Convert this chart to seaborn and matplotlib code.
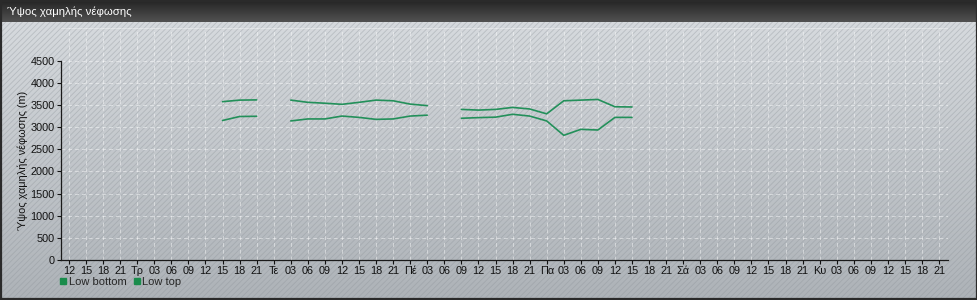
import numpy as np
import pandas as pd
import matplotlib
matplotlib.use("Agg")
import matplotlib.pyplot as plt
from matplotlib.patches import Rectangle
from matplotlib.lines import Line2D
import seaborn as sns

# ---------------- data ----------------
title = "Ύψος χαμηλής νέφωσης"
y_label = "Ύψος χαμηλής νέφωσης (m)"
series_names = ["Low bottom", "Low top"]
hours = [39, 42, 45, 48, 51, 54, 57, 60, 63, 66, 69, 72, 75, 78,
         81, 84, 87, 90, 93, 96, 99, 102, 105, 108, 111]
low_bottom = [3150, 3240, 3245, np.nan, 3140, 3185, 3185, 3250, 3220, 3175, 3185, 3250, 3270, np.nan,
              3200, 3215, 3225, 3290, 3250, 3140, 2815, 2950, 2935, 3220, 3220]
low_top = [3575, 3610, 3615, np.nan, 3610, 3560, 3540, 3515, 3560, 3610, 3595, 3520, 3485, np.nan,
           3400, 3385, 3400, 3445, 3410, 3300, 3595, 3610, 3625, 3460, 3455]
tick_hours = list(range(12, 166, 3))
day_labels = {24: "Τρ", 48: "Τε", 72: "Πέ", 96: "Πα", 120: "Σά", 144: "Κυ"}
tick_labels = [day_labels.get(h, f"{h % 24:02d}") for h in tick_hours]
y_ticks = list(range(0, 4501, 500))
line_color = "#23905a"

# ---------------- build long table ----------------
rows = []
for name, vals in zip(series_names, [low_bottom, low_top]):
    seg = 0
    for h, v in zip(hours, vals):
        if np.isnan(v):
            seg += 1
            continue
        rows.append({"series": name, "segment": f"{name}-{seg}", "hour": h, "height": v})
df = pd.DataFrame(rows)

# ---------------- figure ----------------
sns.set_theme(style="white")
plt.rcParams["font.family"] = ["Liberation Sans", "DejaVu Sans"]
plt.rcParams["hatch.linewidth"] = 0.6
W, H = 978, 300
fig = plt.figure(figsize=(W / 100, H / 100), dpi=100)

# background
bg = fig.add_axes([0, 0, 1, 1], zorder=-10)
bg.set_xlim(0, W)
bg.set_ylim(H, 0)
bg.axis("off")
grad = np.linspace(0, 1, 256).reshape(-1, 1)
top_c = np.array([0.84, 0.855, 0.87])
bot_c = np.array([0.68, 0.70, 0.72])
img = (top_c * (1 - grad[..., None]) + bot_c * grad[..., None]).reshape(256, 1, 3)
bg.imshow(img, extent=[0, W, H, 22], aspect="auto", zorder=0)
bg.add_patch(Rectangle((0, 22), W, H - 22, facecolor="none", edgecolor="#8e949a",
                       hatch="//////", linewidth=0, alpha=0.4, zorder=1))
tgrad = np.linspace(0, 1, 64).reshape(-1, 1)
t_top = np.array([0.14, 0.14, 0.14])
t_bot = np.array([0.32, 0.32, 0.32])
timg = (t_top * (1 - tgrad[..., None]) + t_bot * tgrad[..., None]).reshape(64, 1, 3)
bg.imshow(timg, extent=[0, W, 22, 0], aspect="auto", zorder=2)
bg.add_patch(Rectangle((0.5, 0.5), W - 1.5, H - 1.5, facecolor="none",
                       edgecolor="#2a2a2a", linewidth=1.6, zorder=3))
bg.text(7, 11.5, title, color="white", fontsize=8.2, va="center", ha="left", zorder=4)

# main axes
left, right, top_px, bottom_px = 60.7, 948, 28, 260
ax = fig.add_axes([left / W, 1 - bottom_px / H, (right - left) / W, (bottom_px - top_px) / H])
ax.set_facecolor("none")
sns.lineplot(data=df, x="hour", y="height", hue="series", units="segment", estimator=None,
             palette={n: line_color for n in series_names}, linewidth=1.2, legend=False,
             sort=False, ax=ax)

px_per_unit = (bottom_px - 60.7) / 4500
ytop = (bottom_px - top_px) / px_per_unit
ax.set_ylim(0, ytop)
ax.set_xlim(10.54, 166.57)
ax.set_xticks(tick_hours)
ax.set_xticklabels(tick_labels)
ax.set_yticks(y_ticks)
ax.set_yticklabels([str(v) for v in y_ticks])
ax.tick_params(axis="both", labelsize=7.8, colors="#111111", length=3, width=0.8, pad=1.5,
               direction="out", bottom=True, left=True)
ax.set_xlabel("")
ax.set_ylabel(y_label, fontsize=7.8, color="#111111")
ax.yaxis.set_label_coords((28 - left) / (right - left), 2250 / ytop)

for s in ["top", "right"]:
    ax.spines[s].set_visible(False)
for s in ["left", "bottom"]:
    ax.spines[s].set_color("#1a1a1a")
    ax.spines[s].set_linewidth(0.9)
ax.spines["left"].set_bounds(0, 4500)

ax.grid(True, axis="both", color="white", linestyle=(0, (4, 3)), linewidth=0.7, alpha=0.45)
ax.axhline(ytop, color="white", linewidth=0.7, alpha=0.35)

handles = [Line2D([0], [0], marker="s", linestyle="none", markersize=5,
                  markerfacecolor="#1a8c4c", markeredgecolor="#1a8c4c") for _ in series_names]
fig.legend(handles, series_names, loc="center left", bbox_to_anchor=(60 / W, 1 - 282 / H),
           ncol=2, frameon=False, fontsize=8, handlelength=0.6, handletextpad=0.2,
           columnspacing=0.6, borderaxespad=0, borderpad=0)

fig.savefig("out.png", dpi=100)
